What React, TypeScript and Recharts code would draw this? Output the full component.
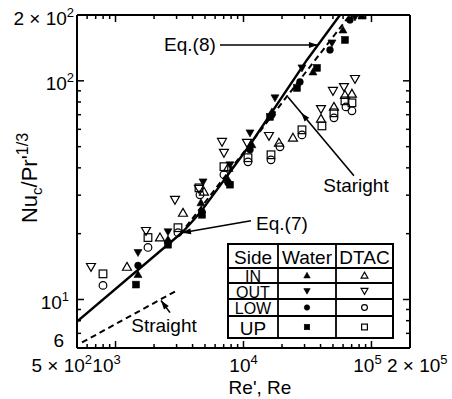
import React from 'react';
import { ScatterChart, Scatter, XAxis, YAxis, ReferenceLine, ReferenceDot } from 'recharts';

type Pt = { x: number; y: number };

const FONT = '"Liberation Sans", Arial, sans-serif';

// measured points, Re (x) vs Nu_c/Pr'^(1/3) (y)
const waterIn: Pt[] = [
  { x: 1499, y: 13.0 }, { x: 2570, y: 18.8 }, { x: 4650, y: 27.7 }, { x: 7565, y: 35.3 },
  { x: 11640, y: 51.0 }, { x: 16680, y: 72.1 }, { x: 34900, y: 109.8 }, { x: 59850, y: 170.8 },
  { x: 84300, y: 197.9 },
];
const waterOut: Pt[] = [
  { x: 1499, y: 16.4 }, { x: 2570, y: 20.4 }, { x: 4830, y: 34.5 }, { x: 7840, y: 41.3 },
  { x: 11240, y: 57.8 }, { x: 17620, y: 83.6 }, { x: 28630, y: 114.6 }, { x: 49100, y: 149.0 },
  { x: 74300, y: 195.8 },
];
const waterLow: Pt[] = [
  { x: 1499, y: 14.3 }, { x: 2570, y: 18.2 }, { x: 4740, y: 25.2 }, { x: 7565, y: 34.2 },
  { x: 11240, y: 48.4 }, { x: 16680, y: 69.9 }, { x: 27600, y: 98.9 }, { x: 47400, y: 138.4 },
  { x: 67900, y: 189.8 },
];
const waterUp: Pt[] = [
  { x: 1445, y: 11.7 }, { x: 2570, y: 17.8 }, { x: 4740, y: 24.4 }, { x: 7840, y: 33.5 },
  { x: 16100, y: 68.4 }, { x: 26170, y: 92.8 }, { x: 37500, y: 114.6 }, { x: 62050, y: 153.8 },
];
const dtacIn: Pt[] = [
  { x: 1229, y: 14.1 }, { x: 2225, y: 19.2 }, { x: 3366, y: 24.9 }, { x: 4910, y: 31.1 },
  { x: 7565, y: 40.0 }, { x: 18920, y: 52.1 }, { x: 24350, y: 54.9 }, { x: 40300, y: 67.0 },
  { x: 50900, y: 76.0 }, { x: 62050, y: 86.2 }, { x: 70350, y: 87.2 },
];
const dtacOut: Pt[] = [
  { x: 643, y: 14.1 }, { x: 1730, y: 20.6 }, { x: 2915, y: 28.6 }, { x: 4490, y: 32.1 },
  { x: 6790, y: 52.6 }, { x: 7035, y: 46.9 }, { x: 10640, y: 52.1 }, { x: 15810, y: 56.0 },
  { x: 40300, y: 74.4 }, { x: 50000, y: 90.0 }, { x: 60950, y: 93.8 }, { x: 74300, y: 102.1 },
];
const dtacLow: Pt[] = [
  { x: 798, y: 11.6 }, { x: 1793, y: 17.3 }, { x: 3076, y: 20.2 }, { x: 4570, y: 30.1 },
  { x: 7035, y: 37.2 }, { x: 10840, y: 42.6 }, { x: 16400, y: 43.5 }, { x: 19270, y: 49.9 },
  { x: 28630, y: 56.6 }, { x: 50900, y: 67.7 }, { x: 63200, y: 76.0 }, { x: 70350, y: 72.9 },
];
const dtacUp: Pt[] = [
  { x: 798, y: 13.1 }, { x: 1793, y: 19.2 }, { x: 3076, y: 21.3 }, { x: 4490, y: 32.4 },
  { x: 7035, y: 40.5 }, { x: 10840, y: 44.5 }, { x: 16400, y: 45.9 }, { x: 28630, y: 59.7 },
  { x: 41000, y: 62.2 }, { x: 50900, y: 71.4 }, { x: 62050, y: 81.0 }, { x: 70350, y: 79.3 },
];

// correlation curves
const eq7: Pt[] = [{ x: 500, y: 7.93 }, { x: 3366, y: 20.4 }];
const eq8: Pt[] = [
  { x: 3366, y: 20.4 }, { x: 4570, y: 24.9 }, { x: 11240, y: 51.0 }, { x: 31300, y: 124.6 },
  { x: 56750, y: 200 },
];
const straightLow: Pt[] = [{ x: 547, y: 6.36 }, { x: 3020, y: 11.0 }];
const straightHigh: Pt[] = [{ x: 3187, y: 19.8 }, { x: 68000, y: 200 }];

// axes
const xDomain = [500, 200000];
const yDomain = [6, 200];
const xTicks = [
  500, 600, 700, 800, 900, 1000, 2000, 3000, 4000, 5000, 6000, 7000, 8000, 9000,
  10000, 20000, 30000, 40000, 50000, 60000, 70000, 80000, 90000, 100000, 200000,
];
const xMajor = [1000, 10000, 100000];
const yTicks = [6, 7, 8, 9, 10, 20, 30, 40, 50, 60, 70, 80, 90, 100, 200];
const yMajor = [10, 100];

// tick labels: value -> [mantissa, exponent]
const xLabels: Record<number, [string, string]> = {
  500: ['5', '2'], 1000: ['', '3'], 10000: ['', '4'], 100000: ['', '5'], 200000: ['2', '5'],
};
const yLabels: Record<number, [string, string]> = {
  6: ['6', ''], 10: ['', '1'], 100: ['', '2'], 200: ['2', '2'],
};

const legendRows = ['IN', 'OUT', 'LOW', 'UP'];
const legendShapes = ['up', 'down', 'circle', 'square'] as const;

const PowText = ({ x, y, anchor, m, e }: any) => (
  <text x={x} y={y} textAnchor={anchor} fontFamily={FONT} fontSize={19} fill="#000">
    {e ? (m ? `${m} × 10` : '10') : m}
    {e ? <tspan dy={-8} fontSize={13}>{e}</tspan> : null}
  </text>
);

const xLabelPos: Record<number, { dx: number; anchor: string }> = {
  500: { dx: 15, anchor: 'end' },
  1000: { dx: -9, anchor: 'middle' },
  10000: { dx: 0, anchor: 'middle' },
  100000: { dx: -4, anchor: 'middle' },
  200000: { dx: -23, anchor: 'start' },
};

const BottomTick = (p: any) => {
  const { x, y, payload } = p;
  const v = payload.value;
  const major = xMajor.includes(v);
  const lab = xLabels[v];
  const pos = xLabelPos[v];
  return (
    <g>
      <line x1={x} x2={x} y1={y} y2={y - (major ? 7 : 4)} stroke="#000" strokeWidth={1.5} />
      {lab && <PowText x={x + pos.dx} y={y + 24} anchor={pos.anchor} m={lab[0]} e={lab[1]} />}
    </g>
  );
};

const TopTick = (p: any) => {
  const { x, y, payload } = p;
  const major = xMajor.includes(payload.value);
  return <line x1={x} x2={x} y1={y} y2={y + (major ? 7 : 4)} stroke="#000" strokeWidth={1.5} />;
};

const yLabelOff: Record<number, [number, number]> = { 6: [-13, -1], 10: [-8, 10], 100: [-3, 9], 200: [-3, 10] };

const LeftTick = (p: any) => {
  const { x, y, payload } = p;
  const v = payload.value;
  const major = yMajor.includes(v);
  const lab = yLabels[v];
  const off = yLabelOff[v];
  return (
    <g>
      <line x1={x} x2={x + (major ? 7 : 4)} y1={y} y2={y} stroke="#000" strokeWidth={1.5} />
      {lab && <PowText x={x + off[0]} y={y + off[1]} anchor="end" m={lab[0]} e={lab[1]} />}
    </g>
  );
};

const RightTick = (p: any) => {
  const { x, y, payload } = p;
  const major = yMajor.includes(payload.value);
  return <line x1={x} x2={x - (major ? 7 : 4)} y1={y} y2={y} stroke="#000" strokeWidth={1.5} />;
};

const markerPath = (kind: string, cx: number, cy: number, s: number) => {
  if (kind === 'up') return `M${cx},${cy - s} L${cx + s},${cy + s * 0.75} L${cx - s},${cy + s * 0.75} Z`;
  if (kind === 'down') return `M${cx},${cy + s} L${cx + s},${cy - s * 0.75} L${cx - s},${cy - s * 0.75} Z`;
  return '';
};

const Marker = ({ kind, filled, cx, cy, s }: any) => {
  const fill = filled ? '#000' : 'none';
  const sw = filled ? 0.6 : 1.2;
  if (kind === 'circle') return <circle cx={cx} cy={cy} r={s * 0.85} fill={fill} stroke="#000" strokeWidth={sw} />;
  if (kind === 'square')
    return <rect x={cx - s * 0.85} y={cy - s * 0.85} width={s * 1.7} height={s * 1.7} fill={fill} stroke="#000" strokeWidth={sw} />;
  return <path d={markerPath(kind, cx, cy, s)} fill={fill} stroke="#000" strokeWidth={sw} />;
};

const shapeOf = (kind: string, filled: boolean) => (p: any) =>
  p.cx == null ? <g /> : <Marker kind={kind} filled={filled} cx={p.cx} cy={p.cy} s={filled ? 4 : 4.5} />;

const noDot = () => <g />;

const arrow = (headAt: number) => (p: any) => {
  const { x1, y1, x2, y2 } = p;
  const a = Math.atan2(y2 - y1, x2 - x1);
  const hx = x1 + (x2 - x1) * headAt;
  const hy = y1 + (y2 - y1) * headAt;
  const bx = hx - 9 * Math.cos(a);
  const by = hy - 9 * Math.sin(a);
  const w = 3;
  return (
    <g>
      <line x1={x1} y1={y1} x2={x2} y2={y2} stroke="#000" strokeWidth={1.6} />
      <polygon
        points={`${hx},${hy} ${bx - w * Math.sin(a)},${by + w * Math.cos(a)} ${bx + w * Math.sin(a)},${by - w * Math.cos(a)}`}
        fill="#000"
      />
    </g>
  );
};

const note = (text: string) => (p: any) => (
  <text x={p.cx} y={p.cy} textAnchor="middle" dominantBaseline="central" fontFamily={FONT} fontSize={19} fill="#000">
    {text}
  </text>
);

const Table = () => {
  const left = 228, top = 244, right = 393, bottom = 338;
  const cols = [278, 336];
  const rows = [268, 283, 299, 316];
  const centers = [(268 + 283) / 2, (283 + 299) / 2, (299 + 316) / 2, (316 + 338) / 2];
  return (
    <svg width={452} height={399} style={{ position: 'absolute', left: 0, top: 0, pointerEvents: 'none' }}>
      <rect x={left} y={top} width={right - left} height={bottom - top} fill="#fff" stroke="#000" strokeWidth={2} />
      {cols.map((c) => <line key={c} x1={c} x2={c} y1={top} y2={bottom} stroke="#000" strokeWidth={1.8} />)}
      {rows.map((r) => <line key={r} x1={left} x2={right} y1={r} y2={r} stroke="#000" strokeWidth={1.8} />)}
      <g fontFamily={FONT} fill="#000" textAnchor="middle" dominantBaseline="central">
        <text x={253} y={257} fontSize={19}>Side</text>
        <text x={307} y={257} fontSize={19}>Water</text>
        <text x={364.5} y={257} fontSize={19}>DTAC</text>
        {legendRows.map((r, i) => (
          <text key={r} x={253} y={centers[i] + 1} fontSize={i === 3 ? 19 : 16}>{r}</text>
        ))}
      </g>
      {legendShapes.map((k, i) => (
        <g key={k}>
          <Marker kind={k} filled cx={307} cy={centers[i]} s={3.2} />
          <Marker kind={k} filled={false} cx={364.5} cy={centers[i]} s={3.4} />
        </g>
      ))}
    </svg>
  );
};

const lineSolid = { stroke: '#000', strokeWidth: 2.4 };
const lineDash = { stroke: '#000', strokeWidth: 2, strokeDasharray: '6 4' };
const frame = { stroke: '#000', strokeWidth: 2 };

export default function App() {
  return (
    <div style={{ position: 'absolute', left: 0, top: 0, width: 452, height: 399, background: '#fff' }}>
      <ScatterChart width={452} height={399} margin={{ top: 14, right: 41, bottom: 50, left: 76 }}>
        <XAxis
          dataKey="x" type="number" scale="log" domain={xDomain} allowDataOverflow ticks={xTicks}
          interval={0} height={1} tickSize={0} tickMargin={0} tick={<BottomTick />}
          axisLine={frame} tickLine={false}
        />
        <XAxis
          xAxisId="top" orientation="top" dataKey="x" type="number" scale="log" domain={xDomain}
          allowDataOverflow ticks={xTicks} interval={0} height={1} tickSize={0} tickMargin={0}
          tick={<TopTick />} axisLine={frame} tickLine={false}
        />
        <YAxis
          dataKey="y" type="number" scale="log" domain={yDomain} allowDataOverflow ticks={yTicks}
          interval={0} width={1} tickSize={0} tickMargin={0} tick={<LeftTick />}
          axisLine={frame} tickLine={false}
        />
        <YAxis
          yAxisId="right" orientation="right" dataKey="y" type="number" scale="log" domain={yDomain}
          allowDataOverflow ticks={yTicks} interval={0} width={1} tickSize={0} tickMargin={0}
          tick={<RightTick />} axisLine={frame} tickLine={false}
        />

        <Scatter data={eq7} line={lineSolid} lineType="joint" shape={noDot} isAnimationActive={false} />
        <Scatter data={eq8} line={lineSolid} lineType="joint" shape={noDot} isAnimationActive={false} />
        <Scatter data={straightLow} line={lineDash} lineType="joint" shape={noDot} isAnimationActive={false} />
        <Scatter data={straightHigh} line={lineDash} lineType="joint" shape={noDot} isAnimationActive={false} />

        <Scatter data={dtacIn} shape={shapeOf('up', false)} isAnimationActive={false} />
        <Scatter data={dtacOut} shape={shapeOf('down', false)} isAnimationActive={false} />
        <Scatter data={dtacLow} shape={shapeOf('circle', false)} isAnimationActive={false} />
        <Scatter data={dtacUp} shape={shapeOf('square', false)} isAnimationActive={false} />
        <Scatter data={waterIn} shape={shapeOf('up', true)} isAnimationActive={false} />
        <Scatter data={waterOut} shape={shapeOf('down', true)} isAnimationActive={false} />
        <Scatter data={waterLow} shape={shapeOf('circle', true)} isAnimationActive={false} />
        <Scatter data={waterUp} shape={shapeOf('square', true)} isAnimationActive={false} />

        <ReferenceLine segment={[{ x: 6550, y: 145.9 }, { x: 38170, y: 145.9 }]} shape={arrow(1)} />
        <ReferenceLine segment={[{ x: 11440, y: 22.9 }, { x: 3305, y: 20.2 }]} shape={arrow(1)} />
        <ReferenceLine segment={[{ x: 72950, y: 36.8 }, { x: 22240, y: 84.4 }]} shape={arrow(0.8)} />
        <ReferenceLine segment={[{ x: 2666, y: 8.71 }, { x: 2266, y: 9.89 }]} shape={arrow(1)} />

        <ReferenceDot x={3816} y={145.9} r={0} shape={note('Eq.(8)')} />
        <ReferenceDot x={19980} y={22.2} r={0} shape={note('Eq.(7)')} />
        <ReferenceDot x={75650} y={33.1} r={0} shape={note('Staright')} />
        <ReferenceDot x={2392} y={7.6} r={0} shape={note('Straight')} />

        <text x={260} y={394} textAnchor="middle" fontFamily={FONT} fontSize={19} fill="#000">Re', Re</text>
        <text
          transform="translate(37,178) rotate(-90)" textAnchor="middle" fontFamily={FONT} fontSize={22} fill="#000"
        >
          Nu<tspan dy={5} fontSize={15}>c</tspan>
          <tspan dy={-5}>/Pr'</tspan>
          <tspan dy={-9} fontSize={16}>1/3</tspan>
        </text>
      </ScatterChart>
      <Table />
    </div>
  );
}
